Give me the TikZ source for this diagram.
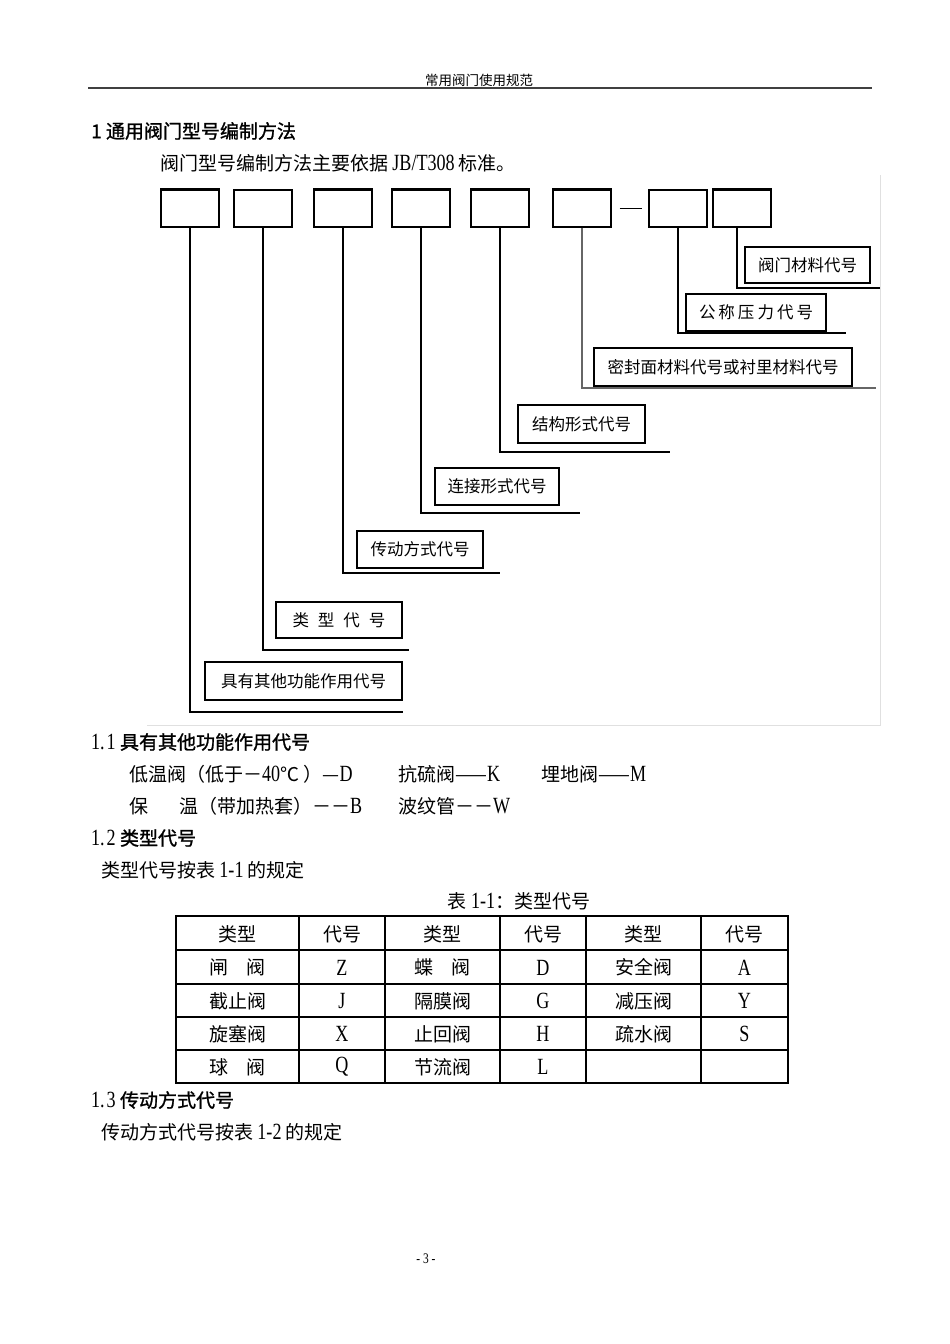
\documentclass[tikz,border=0pt]{standalone}
\usepackage{fontspec}
\setmainfont{Liberation Serif}
\newfontfamily\cjk{Noto Sans CJK SC}
\newfontfamily\cjkb[FakeBold=1.2]{Noto Sans CJK SC}
\newfontfamily\latn[FakeStretch=0.78,Scale=1.22]{Liberation Serif}
\newcommand\enx[1]{{\latn #1}}
\tikzset{
 topbox/.style={draw, line width=1.1pt, minimum width=58pt, minimum height=37pt, inner sep=0pt},
 lbl/.style={draw, line width=1.1pt, inner sep=0pt, font=\cjk\fontsize{16.5}{18}\selectfont},
 tree/.style={line width=1.1pt},
 treek/.style={line width=2pt},
 topedge/.style={line width=2.2pt},
 txt/.style={anchor=west, inner sep=0pt, font=\cjk\fontsize{19}{21}\selectfont},
 hd/.style={anchor=west, inner sep=0pt, font=\cjkb\fontsize{19}{21}\selectfont},
 cell/.style={inner sep=0pt, font=\cjk\fontsize{19}{21}\selectfont},
 grid/.style={line width=1.1pt},
}
\begin{document}
\begin{tikzpicture}[x=1pt,y=-1pt]
\useasboundingbox (0,0) rectangle (950,1344);
\fill[white] (0,0) rectangle (950,1344);
% header
\node[inner sep=0pt, font=\cjk\fontsize{13.5}{15}\selectfont] (hdr) at (479,80) {常用阀门使用规范};
\coordinate (hl) at (88,88); \coordinate (hr) at (872,88);
\draw[line width=1.8pt, black!75] (hl) -- (hr);
% title
\node[hd] (t1) at (91,131) {1 通用阀门型号编制方法};
\node[txt] (t2) at (160,163) {阀门型号编制方法主要依据 \enx{JB/T308} 标准。};
% faint frame
\coordinate (fa) at (147,725); \coordinate (fb) at (880,725); \coordinate (fc) at (880,175);
\draw[black!12, line width=1pt] (fa) -- (fb) -- (fc);
% top boxes
\node[topbox] (b1) at (190,208.5) {};
\node[topbox] (b2) at (263,208.5) {};
\node[topbox] (b3) at (343,208.5) {};
\node[topbox] (b4) at (421,208.5) {};
\node[topbox] (b5) at (500,208.5) {};
\node[topbox] (b6) at (582,208.5) {};
\node[topbox] (b7) at (678,208.5) {};
\node[topbox] (b8) at (742,208.5) {};
\foreach \b in {b1,b3,b4,b5,b6,b8}{\draw[topedge] (\b.north west) -- (\b.north east);}
\draw[tree] ([xshift=8pt]b6.east) -- ([xshift=-6pt]b7.west);
% labels
\node[lbl, minimum width=125pt, minimum height=36pt] (l8) at (807.5,265) {阀门材料代号};
\node[lbl, minimum width=140pt, minimum height=37pt] (l7) at (756,312.5) {公\hspace{3pt}称\hspace{3pt}压\hspace{3pt}力\hspace{3pt}代\hspace{3pt}号};
\node[lbl, minimum width=258pt, minimum height=38pt] (l6) at (723,367) {密封面材料代号或衬里材料代号};
\node[lbl, minimum width=127pt, minimum height=38pt] (l5) at (581.5,424) {结构形式代号};
\node[lbl, minimum width=124pt, minimum height=37pt] (l4) at (497,486.5) {连接形式代号};
\node[lbl, minimum width=126pt, minimum height=37pt] (l3) at (420,549.5) {传动方式代号};
\node[lbl, minimum width=126pt, minimum height=36pt] (l2) at (339,620) {类\hspace{9pt}型\hspace{9pt}代\hspace{9pt}号};
\node[lbl, minimum width=197pt, minimum height=38pt] (l1) at (303.5,681) {具有其他功能作用代号};
% tree lines
\coordinate (h1) at (403,712);
\coordinate (h2) at (409,650);
\coordinate (h3) at (500,573);
\coordinate (h4) at (580,513);
\coordinate (h5) at (670,452);
\coordinate (h6) at (876,388);
\coordinate (h7) at (846,333);
\coordinate (h8) at (880,288);
\draw[tree] (b1.south) |- (h1);
\draw[tree] (b2.south) |- (h2);
\draw[treek] (b3.south) |- (h3);
\draw[tree] (b4.south) |- (h4);
\draw[treek] (b5.south) |- (h5);
\draw[tree, black!60, line width=1.6pt] (b6.south) |- (h6);
\draw[tree] (b7.south) |- (h7);
\draw[tree] ([xshift=-5pt]b8.south) |- (h8);
% section 1.1
\node[hd] (s11) at (91,742) {\enx{1.\kern2pt1} 具有其他功能作用代号};
\node[txt] (a1) at (129,774) {低温阀（低于－\enx{40}℃ ）—\enx{D}};
\node[txt] (a2) at (398,774) {抗硫阀——\enx{K}};
\node[txt] (a3) at (541,774) {埋地阀——\enx{M}};
\node[txt] (a4) at (129,806) {保\hspace{31pt}温（带加热套）－－\enx{B}};
\node[txt] (a5) at (398,806) {波纹管－－\enx{W}};
% section 1.2
\node[hd] (s12) at (91,838) {\enx{1.\kern2pt2} 类型代号};
\node[txt] (a6) at (101,870) {类型代号按表 \enx{1-1} 的规定};
\node[cell] (cap) at (519,901) {表 \enx{1-1}：类型代号};
% table
\draw[grid] (176,916) rectangle (788,1083);
\foreach \yy in {950,984,1017,1050}{\draw[grid] (176,\yy) -- (788,\yy);}
\foreach \xx in {299,385,500,586,701}{\draw[grid] (\xx,916) -- (\xx,1083);}
\node[cell] (c11) at (237.5,934) {类型};
\node[cell] (c12) at (342,934) {代号};
\node[cell] (c13) at (442.5,934) {类型};
\node[cell] (c14) at (543,934) {代号};
\node[cell] (c15) at (643.5,934) {类型};
\node[cell] (c16) at (744.5,934) {代号};
\node[cell] (c21) at (237.5,967.5) {闸\hspace{18pt}阀};
\node[cell] (c22) at (342,967.5) {\enx{Z}};
\node[cell] (c23) at (442.5,967.5) {蝶\hspace{18pt}阀};
\node[cell] (c24) at (543,967.5) {\enx{D}};
\node[cell] (c25) at (643.5,967.5) {安全阀};
\node[cell] (c26) at (744.5,967.5) {\enx{A}};
\node[cell] (c31) at (237.5,1001) {截止阀};
\node[cell] (c32) at (342,1001) {\enx{J}};
\node[cell] (c33) at (442.5,1001) {隔膜阀};
\node[cell] (c34) at (543,1001) {\enx{G}};
\node[cell] (c35) at (643.5,1001) {减压阀};
\node[cell] (c36) at (744.5,1001) {\enx{Y}};
\node[cell] (c41) at (237.5,1034) {旋塞阀};
\node[cell] (c42) at (342,1034) {\enx{X}};
\node[cell] (c43) at (442.5,1034) {止回阀};
\node[cell] (c44) at (543,1034) {\enx{H}};
\node[cell] (c45) at (643.5,1034) {疏水阀};
\node[cell] (c46) at (744.5,1034) {\enx{S}};
\node[cell] (c51) at (237.5,1067) {球\hspace{18pt}阀};
\node[cell] (c52) at (342,1067) {\enx{Q}};
\node[cell] (c53) at (442.5,1067) {节流阀};
\node[cell] (c54) at (543,1067) {\enx{L}};
% section 1.3
\node[hd] (s13) at (91,1100) {\enx{1.\kern2pt3} 传动方式代号};
\node[txt] (a7) at (101,1132) {传动方式代号按表 \enx{1-2} 的规定};
% page number
\node[inner sep=0pt, font=\latn\fontsize{12}{14}\selectfont] (pg) at (426,1259) {- 3 -};
\end{tikzpicture}
\end{document}
